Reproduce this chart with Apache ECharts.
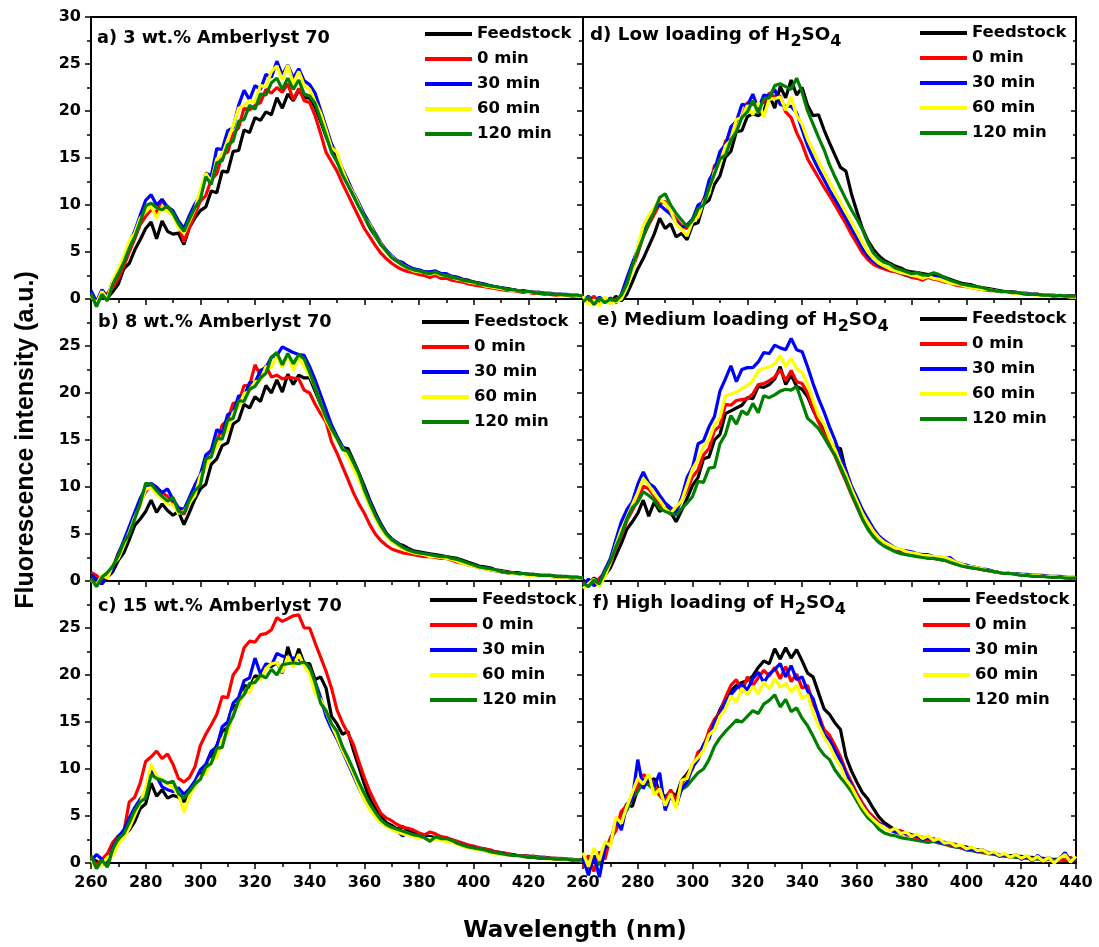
<!DOCTYPE html>
<html>
<head>
<meta charset="utf-8">
<script src="https://cdn.jsdelivr.net/npm/echarts/dist/echarts.min.js"></script>
<style>
html,body{margin:0;padding:0;background:#ffffff;}
#chart{width:1099px;height:947px;}
</style>
</head>
<body>
<div id="chart"></div>
<script>
// Emission wavelength grid (nm)
const wavelength = [
260,262,264,266,268,270,272,274,276,278,
280,282,284,286,288,290,292,294,296,298,
300,302,304,306,308,310,312,314,316,318,
320,322,324,326,328,330,332,334,336,338,
340,342,344,346,348,350,352,354,356,358,
360,362,364,366,368,370,372,374,376,378,
380,382,384,386,388,390,392,394,396,398,
400,402,404,406,408,410,412,414,416,418,
420,422,424,426,428,430,432,434,436,438,
440];

const seriesNames = ['Feedstock', '0 min', '30 min', '60 min', '120 min'];
const tickLabelsX = [260, 280, 300, 320, 340, 360, 380, 400, 420, 440];
const tickLabelsY = [0, 5, 10, 15, 20, 25, 30];

// ---- a) 3 wt.% Amberlyst 70 ----
const aFeed = [
0.2,-0.4,0.3,0.1,0.8,1.6,3.2,3.8,5.2,6.3,
7.5,8.2,6.4,8.3,7.2,6.9,7.0,5.8,7.6,8.6,
9.4,9.8,11.5,11.3,13.6,13.5,15.7,15.8,18.0,17.7,
19.3,19.0,19.9,19.6,21.4,20.3,21.8,21.1,22.2,21.4,
21.4,20.4,18.9,17.3,15.9,14.7,13.4,12.2,11.0,9.9,
8.7,7.6,6.7,5.8,5.1,4.5,4.0,3.9,3.4,3.2,
3.0,2.9,2.8,2.9,2.7,2.6,2.4,2.3,2.1,2.0,
1.8,1.7,1.6,1.4,1.3,1.2,1.1,1.0,0.9,0.9,
0.8,0.7,0.7,0.6,0.6,0.5,0.5,0.4,0.4,0.4,
0.3];
const a0 = [
0.4,-0.2,0.3,0.6,1.2,2.2,3.5,5.0,6.4,7.9,
8.8,9.5,9.2,10.6,9.5,9.0,7.9,6.1,7.6,9.0,
10.4,11.0,12.7,13.3,15.4,15.6,17.6,18.2,20.3,20.1,
20.6,20.9,22.3,21.9,22.5,22.0,22.9,21.2,22.4,21.1,
20.9,19.5,17.6,15.6,14.6,13.6,12.3,11.1,9.9,8.7,
7.5,6.6,5.7,4.9,4.3,3.8,3.4,3.1,2.9,2.8,
2.6,2.5,2.3,2.5,2.2,2.2,2.0,1.9,1.8,1.6,
1.5,1.4,1.3,1.2,1.1,1.0,0.9,0.9,0.8,0.7,
0.7,0.6,0.6,0.5,0.5,0.4,0.4,0.4,0.3,0.3,
0.3];
const a30 = [
0.9,-0.3,1.0,0.2,1.9,3.0,4.3,6.0,7.2,8.9,
10.5,11.1,10.0,10.6,9.8,9.4,8.3,7.5,8.9,10.1,
11.0,13.4,13.1,16.0,15.9,17.9,18.2,20.6,22.2,21.2,
22.7,22.3,23.9,23.6,25.3,23.8,24.9,23.5,24.5,23.2,
22.8,21.9,20.1,18.3,16.5,15.3,13.8,12.6,11.3,10.2,
9.0,8.0,7.0,6.0,5.2,4.6,4.1,3.8,3.5,3.2,
3.1,2.9,2.9,3.0,2.7,2.7,2.4,2.3,2.1,1.9,
1.8,1.7,1.5,1.4,1.3,1.2,1.1,1.0,0.9,0.8,
0.8,0.7,0.7,0.6,0.6,0.5,0.5,0.5,0.4,0.4,
0.3];
const a60 = [
0.3,-0.5,0.8,0.0,2.0,3.2,4.5,6.2,7.0,8.6,
9.3,9.9,8.6,9.8,9.3,8.9,7.6,7.0,8.3,9.6,
11.6,13.4,12.4,14.9,15.3,16.9,18.4,20.3,20.6,21.1,
21.0,22.7,22.6,24.2,24.8,23.3,24.9,22.9,24.2,22.7,
22.3,21.0,19.8,18.0,16.1,15.6,13.7,12.3,11.2,10.0,
8.7,7.9,6.8,5.9,5.0,4.5,4.0,3.6,3.3,3.0,
2.9,2.8,2.6,2.8,2.5,2.5,2.3,2.1,2.0,1.8,
1.7,1.6,1.4,1.3,1.2,1.1,1.0,0.9,0.9,0.8,
0.7,0.7,0.6,0.6,0.5,0.5,0.4,0.4,0.4,0.3,
0.3];
const a120 = [
0.6,-0.8,0.5,-0.2,1.6,2.7,3.9,5.4,6.6,8.2,
9.9,10.2,9.7,9.5,9.9,9.1,8.0,7.2,8.5,9.7,
10.6,13.0,12.2,14.5,14.7,16.4,16.8,18.9,19.1,20.6,
20.2,21.8,21.7,23.0,23.5,22.3,23.5,22.3,23.3,21.8,
21.6,20.8,19.1,17.4,15.6,14.6,13.2,12.1,11.0,9.8,
8.8,7.7,6.9,5.8,5.1,4.4,4.0,3.6,3.3,3.1,
3.0,2.8,2.7,2.9,2.6,2.5,2.3,2.2,2.0,1.9,
1.8,1.6,1.5,1.4,1.3,1.2,1.0,1.0,0.9,0.8,
0.8,0.7,0.6,0.6,0.5,0.5,0.5,0.4,0.4,0.4,
0.3];

// ---- b) 8 wt.% Amberlyst 70 ----
const bFeed = [
0.2,0.0,-0.3,0.4,1.0,2.2,3.0,4.4,5.9,6.6,
7.4,8.6,7.3,8.2,7.5,7.0,7.4,6.0,7.3,8.7,
9.8,10.3,12.4,13.0,14.4,14.7,16.7,17.1,18.8,18.4,
19.6,19.1,20.8,20.0,21.4,20.1,22.0,20.9,21.9,21.6,
21.6,20.2,18.8,17.4,16.0,15.1,14.2,14.1,12.8,11.5,
10.1,8.6,7.3,6.1,5.1,4.4,4.0,3.8,3.5,3.2,
3.1,3.0,2.9,2.8,2.7,2.6,2.5,2.4,2.2,2.0,
1.8,1.6,1.5,1.4,1.2,1.1,1.0,0.9,0.9,0.8,
0.7,0.7,0.6,0.6,0.6,0.5,0.5,0.4,0.4,0.4,
0.3];
const b0 = [
0.9,0.6,0.0,0.4,1.4,3.0,3.9,5.6,6.9,8.4,
9.5,10.3,9.8,9.4,9.0,8.4,7.5,7.1,8.4,9.2,
10.9,12.2,14.0,14.7,16.6,17.1,18.9,19.0,20.8,20.8,
23.0,21.9,22.9,21.7,21.9,21.5,21.7,21.6,21.5,20.3,
20.0,18.8,17.8,16.9,14.8,13.6,12.2,10.8,9.4,8.2,
7.2,6.0,5.0,4.3,3.8,3.4,3.2,3.0,2.9,2.8,
2.7,2.6,2.6,2.5,2.4,2.4,2.2,2.0,1.9,1.7,
1.6,1.4,1.3,1.2,1.1,1.0,0.9,0.8,0.8,0.7,
0.7,0.6,0.6,0.5,0.5,0.4,0.4,0.4,0.3,0.3,
0.3];
const b30 = [
0.7,0.2,-0.3,0.5,1.3,2.9,4.3,5.8,7.3,8.8,
9.9,10.4,10.0,9.4,9.8,8.7,7.8,7.6,8.9,10.2,
11.3,13.4,13.9,16.1,15.7,17.7,17.9,19.7,19.6,21.1,
21.1,22.4,22.7,23.8,24.0,24.9,24.6,24.3,24.1,24.0,
22.8,21.4,19.8,18.2,16.6,15.4,14.3,13.5,12.4,11.2,
9.9,8.5,7.1,6.0,5.1,4.5,4.1,3.6,3.3,3.1,
3.0,2.9,2.8,2.7,2.6,2.5,2.4,2.2,2.0,1.8,
1.7,1.5,1.4,1.2,1.1,1.0,0.9,0.9,0.8,0.7,
0.7,0.6,0.6,0.5,0.5,0.5,0.4,0.4,0.4,0.4,
0.3];
const b60 = [
0.1,-0.4,0.6,0.3,1.8,2.4,3.8,5.2,6.8,8.0,
9.8,9.9,9.2,8.8,8.2,8.1,7.2,7.4,8.3,9.1,
11.2,12.1,13.4,14.3,15.4,16.0,17.9,18.5,19.9,20.2,
21.2,21.3,22.8,22.7,23.9,22.7,24.1,22.4,23.8,22.8,
21.9,20.6,18.9,17.1,16.0,15.0,14.1,13.2,12.0,10.8,
9.3,7.9,6.7,5.6,4.8,4.2,3.8,3.4,3.2,3.0,
2.9,2.8,2.6,2.6,2.5,2.4,2.3,2.1,1.9,1.7,
1.6,1.4,1.3,1.2,1.1,1.0,0.9,0.8,0.8,0.7,
0.6,0.6,0.5,0.5,0.5,0.4,0.4,0.4,0.4,0.3,
0.3];
const b120 = [
0.3,-0.6,0.4,0.9,1.6,2.7,4.1,5.0,6.6,8.2,
10.4,10.3,9.6,9.0,8.5,8.9,7.4,7.2,8.6,9.6,
10.2,13.0,13.2,15.2,15.1,17.1,17.3,19.2,19.1,20.4,
20.7,21.6,22.1,23.8,24.3,23.0,24.2,23.1,24.1,23.6,
22.2,20.6,18.9,17.4,16.2,15.2,14.0,13.8,12.6,11.4,
9.7,8.3,7.0,5.9,5.0,4.4,4.0,3.6,3.3,3.1,
3.0,2.9,2.8,2.7,2.6,2.6,2.4,2.3,2.1,1.9,
1.7,1.5,1.4,1.3,1.2,1.0,0.9,0.9,0.8,0.8,
0.7,0.7,0.6,0.6,0.6,0.5,0.5,0.5,0.4,0.4,
0.3];

// ---- c) 15 wt.% Amberlyst 70 ----
const cFeed = [
0.5,0.2,-0.2,0.3,1.2,2.4,3.0,3.5,4.4,5.8,
6.3,8.5,7.1,7.8,6.9,7.2,7.0,6.5,7.4,8.3,
9.3,10.1,11.5,12.5,14.0,14.4,16.7,16.8,18.9,18.7,
19.9,19.8,21.1,20.9,21.3,20.2,23.0,21.0,22.8,21.2,
21.2,19.5,19.8,18.6,15.6,14.8,13.7,14.0,12.0,10.2,
8.4,6.8,5.8,5.0,4.3,4.0,3.6,3.9,3.4,3.2,
3.1,2.9,2.8,2.7,2.6,2.5,2.4,2.2,2.1,1.9,
1.7,1.6,1.5,1.3,1.2,1.1,1.0,0.9,0.8,0.8,
0.7,0.7,0.6,0.6,0.5,0.5,0.4,0.4,0.4,0.3,
0.3];
const c0 = [
0.6,-0.2,0.4,1.0,2.2,2.9,3.3,6.5,7.0,8.5,
10.8,11.3,11.9,11.1,11.6,10.5,9.0,8.6,9.1,10.2,
12.5,13.7,14.7,15.8,17.7,17.6,20.0,20.8,22.9,23.6,
23.5,24.3,24.4,24.8,26.1,25.7,26.0,26.3,26.4,25.0,
25.0,23.4,21.9,20.4,18.6,16.3,14.9,13.8,12.6,10.8,
9.1,7.6,6.4,5.3,4.8,4.5,4.1,3.8,3.7,3.5,
3.2,3.0,3.3,3.1,2.8,2.7,2.5,2.3,2.1,1.9,
1.8,1.6,1.5,1.4,1.2,1.1,1.0,0.9,0.8,0.8,
0.7,0.7,0.6,0.6,0.5,0.5,0.5,0.4,0.4,0.3,
0.3];
const c30 = [
0.2,0.9,0.4,-0.4,1.7,2.8,3.5,4.8,5.9,6.8,
7.5,9.9,9.2,8.1,7.8,7.6,8.0,7.3,7.9,8.7,
9.9,10.5,11.9,12.3,14.5,15.0,17.0,17.6,19.4,19.7,
21.8,20.1,21.2,21.0,22.3,22.0,21.9,21.8,21.7,21.2,
20.6,19.3,17.6,15.6,14.3,13.2,11.9,10.6,9.3,8.0,
6.8,5.8,5.0,4.4,4.0,3.7,3.4,2.9,3.2,3.0,
2.9,2.7,2.6,2.6,2.5,2.4,2.3,2.1,1.9,1.7,
1.6,1.5,1.3,1.2,1.1,1.0,0.9,0.9,0.8,0.7,
0.7,0.6,0.6,0.5,0.5,0.4,0.4,0.4,0.3,0.3,
0.3];
const c60 = [
0.3,-0.5,-0.2,0.6,0.8,2.0,2.7,3.7,5.1,6.4,
8.0,10.5,9.3,8.9,8.4,8.0,7.3,5.4,7.1,8.2,
9.2,9.5,11.0,11.2,13.2,13.7,16.0,16.8,18.2,18.1,
19.5,19.5,20.7,21.2,21.3,20.3,22.0,20.8,22.2,21.0,
20.1,18.0,17.4,16.1,14.7,13.4,12.0,10.8,9.5,8.1,
6.7,5.7,4.9,4.3,3.9,3.6,3.3,3.1,3.0,2.8,
2.7,2.6,2.6,2.5,2.4,2.3,2.2,2.0,1.8,1.6,
1.5,1.4,1.3,1.1,1.0,0.9,0.9,0.8,0.7,0.7,
0.6,0.6,0.5,0.5,0.4,0.4,0.4,0.3,0.3,0.3,
0.2];
const c120 = [
0.8,-0.6,0.3,-0.4,1.5,2.6,3.1,4.3,5.6,6.5,
6.9,9.4,9.0,8.8,8.5,8.7,7.4,6.9,7.6,8.4,
8.9,10.2,10.6,12.2,12.3,14.5,15.6,17.3,17.9,19.1,
19.2,20.0,19.7,20.6,20.0,21.1,21.2,21.3,21.2,21.4,
20.8,19.2,17.0,16.2,14.8,14.0,12.4,11.2,9.9,8.6,
7.4,6.3,5.4,4.6,4.1,3.8,3.6,3.4,3.2,3.0,
2.9,2.7,2.3,2.8,2.6,2.6,2.4,2.1,1.9,1.7,
1.6,1.5,1.4,1.2,1.1,1.0,0.9,0.8,0.8,0.7,
0.6,0.6,0.5,0.5,0.5,0.4,0.4,0.4,0.3,0.3,
0.3];

// ---- d) Low loading of H2SO4 ----
const dFeed = [
0.1,-0.3,0.2,-0.5,0.0,-0.4,0.3,-0.2,0.5,1.8,
3.2,4.3,5.6,6.9,8.6,7.5,8.0,6.6,7.0,6.3,
7.9,8.1,10.1,10.5,12.2,13.1,15.1,15.7,17.8,17.9,
19.4,19.7,19.5,20.0,21.7,20.3,22.6,21.4,23.3,21.7,
22.5,20.6,19.5,19.6,18.0,16.6,15.3,14.0,13.6,11.2,
9.3,7.5,6.2,5.3,4.6,4.1,3.8,3.5,3.3,3.0,
2.9,2.8,2.7,2.6,2.7,2.5,2.3,2.1,1.9,1.7,
1.6,1.5,1.3,1.2,1.1,1.0,0.9,0.8,0.8,0.7,
0.6,0.6,0.5,0.5,0.4,0.4,0.4,0.3,0.3,0.3,
0.3];
const d0 = [
0.2,-0.2,0.3,-0.4,0.1,-0.3,0.0,0.2,1.9,3.2,
4.8,6.7,7.9,9.0,10.1,10.4,9.2,8.5,7.8,7.5,
8.5,9.2,10.6,11.6,14.2,14.6,16.8,17.0,19.0,19.3,
20.9,20.7,20.7,20.9,21.9,21.5,21.6,19.9,19.3,17.7,
16.5,14.9,13.9,12.9,11.9,11.0,10.0,9.0,8.0,6.9,
5.9,4.9,4.2,3.7,3.4,3.2,3.0,2.9,2.7,2.5,
2.3,2.2,2.0,2.3,2.1,2.0,1.8,1.7,1.5,1.4,
1.3,1.2,1.1,1.0,0.9,0.9,0.8,0.7,0.7,0.6,
0.6,0.5,0.5,0.5,0.4,0.4,0.3,0.3,0.3,0.3,
0.3];
const d30 = [
-0.2,0.3,-0.5,0.2,-0.3,0.1,-0.4,0.5,2.2,3.8,
5.3,6.9,8.4,9.6,10.0,9.5,9.0,8.2,7.6,7.9,
8.5,10.0,10.3,12.6,13.7,15.7,16.4,18.3,18.9,20.7,
20.6,21.8,20.2,21.7,21.6,22.3,20.7,20.5,20.5,19.8,
18.0,16.3,15.0,13.8,12.7,11.6,10.6,9.6,8.6,7.5,
6.5,5.4,4.6,4.0,3.6,3.4,3.2,3.0,2.8,2.6,
2.5,2.4,2.3,2.5,2.4,2.2,2.0,1.8,1.6,1.5,
1.4,1.3,1.2,1.1,1.0,0.9,0.8,0.8,0.7,0.7,
0.6,0.6,0.5,0.5,0.4,0.4,0.4,0.3,0.3,0.3,
0.3];
const d60 = [
0.3,-0.6,-0.1,-0.7,0.2,-0.5,-0.3,0.0,1.2,3.0,
5.6,7.8,8.9,9.7,10.6,10.2,9.4,8.0,7.4,6.7,
8.3,8.7,10.3,11.2,13.6,14.4,16.3,16.9,19.1,19.3,
20.6,19.6,20.9,19.4,21.3,21.3,21.5,20.1,21.5,19.5,
18.6,17.0,15.8,14.6,13.5,12.4,11.3,10.3,9.2,8.2,
7.1,6.0,5.0,4.3,3.8,3.5,3.2,3.0,2.8,2.7,
2.5,2.4,2.2,2.4,2.2,2.1,1.9,1.7,1.6,1.5,
1.3,1.2,1.1,1.0,1.0,0.9,0.8,0.7,0.7,0.6,
0.6,0.5,0.5,0.4,0.4,0.4,0.3,0.3,0.3,0.2,
0.2];
const d120 = [
-0.3,0.2,-0.6,0.1,-0.4,0.0,-0.2,0.4,1.6,3.5,
5.1,6.6,8.1,9.3,10.8,11.2,10.0,9.1,8.4,7.7,
8.4,9.6,10.0,11.8,13.3,14.9,15.3,16.9,17.8,19.3,
19.9,21.1,19.8,21.3,21.4,22.7,22.9,22.6,22.3,23.5,
22.0,20.0,18.6,17.2,15.9,14.3,13.0,11.8,10.6,9.5,
8.5,7.4,6.0,4.9,4.3,3.9,3.7,3.3,3.1,2.9,
2.7,2.8,2.6,2.5,2.8,2.6,2.3,2.0,1.8,1.6,
1.5,1.4,1.3,1.2,1.0,0.9,0.8,0.8,0.7,0.7,
0.6,0.5,0.5,0.5,0.4,0.4,0.3,0.4,0.3,0.3,
0.3];

// ---- e) Medium loading of H2SO4 ----
const eFeed = [
0.1,-0.3,0.3,-0.1,0.6,1.4,2.7,4.0,5.5,6.3,
7.2,8.6,6.9,8.4,7.4,7.9,7.3,6.3,7.5,8.8,
10.2,11.0,13.0,13.2,15.0,15.6,17.8,18.1,18.4,18.7,
19.5,19.4,20.7,20.6,20.9,21.5,22.8,20.9,21.9,20.7,
20.4,19.6,18.2,17.0,16.1,14.8,14.2,14.1,11.6,9.7,
8.1,6.9,5.9,5.0,4.4,4.0,3.7,3.4,3.2,3.1,
3.0,2.8,2.7,2.6,2.5,2.5,2.3,2.2,2.0,1.8,
1.6,1.5,1.4,1.2,1.1,1.0,0.9,0.9,0.8,0.8,
0.7,0.6,0.6,0.6,0.5,0.5,0.4,0.4,0.4,0.3,
0.3];
const e0 = [
-0.3,0.1,-0.4,0.3,0.9,1.8,3.5,4.8,6.4,7.5,
8.6,10.1,9.8,9.0,8.1,7.6,7.1,7.5,8.6,9.7,
11.1,11.8,13.4,14.1,16.0,16.5,18.8,18.7,19.2,19.3,
19.4,19.9,20.9,21.0,21.3,21.7,22.5,21.3,22.4,21.2,
21.0,20.0,18.3,16.9,15.7,14.4,13.3,11.9,10.6,9.2,
7.9,6.6,5.6,4.8,4.2,3.8,3.5,3.3,3.1,3.0,
2.9,2.7,2.6,2.5,2.4,2.3,2.2,2.0,1.8,1.7,
1.5,1.4,1.3,1.2,1.1,1.0,0.9,0.8,0.8,0.7,
0.7,0.6,0.6,0.5,0.5,0.5,0.4,0.4,0.4,0.3,
0.3];
const e30 = [
-0.4,0.2,-0.5,-0.2,1.2,2.4,4.4,6.3,7.6,8.4,
10.3,11.6,10.4,10.0,9.1,8.3,7.8,7.3,8.9,11.0,
12.1,14.6,14.9,16.4,17.5,20.2,21.5,22.9,21.2,22.5,
22.7,22.7,23.3,24.3,24.2,25.1,24.8,24.6,25.8,24.6,
24.4,22.8,21.0,19.4,18.0,16.4,15.0,13.3,11.8,10.1,
8.9,7.6,6.6,5.6,4.8,4.3,3.9,3.5,3.3,3.2,
3.1,2.9,2.8,2.8,2.6,2.6,2.4,2.5,2.0,1.8,
1.7,1.5,1.4,1.3,1.2,1.0,0.9,0.9,0.8,0.8,
0.7,0.7,0.6,0.6,0.6,0.5,0.5,0.5,0.4,0.4,
0.4];
const e60 = [
-0.8,-0.3,0.2,-0.6,0.5,2.0,3.8,5.5,6.6,8.1,
9.4,10.9,10.2,9.3,8.6,7.7,7.2,7.9,8.5,10.2,
11.9,12.9,14.3,15.0,16.6,17.4,19.7,19.9,20.1,20.5,
20.8,21.3,22.4,22.6,22.8,23.1,24.0,22.8,23.7,22.6,
22.2,20.9,19.2,17.6,16.7,15.2,14.0,12.5,11.3,9.8,
8.5,7.2,6.2,5.3,4.6,4.1,3.8,3.5,3.4,3.1,
3.0,2.9,2.7,2.7,2.6,2.6,2.5,2.3,2.0,1.8,
1.6,1.5,1.4,1.3,1.1,1.0,0.9,0.9,0.8,0.7,
0.7,0.6,0.6,0.6,0.5,0.5,0.5,0.4,0.4,0.4,
0.3];
const e120 = [
-0.2,-0.6,0.1,-0.3,1.0,2.1,3.6,5.0,6.6,7.8,
8.4,9.5,9.1,8.6,7.7,7.4,7.2,7.0,7.7,8.3,
9.0,10.6,10.5,12.0,12.1,14.6,15.6,17.6,16.7,18.1,
17.7,18.9,17.9,19.7,19.5,19.8,20.2,20.4,20.3,20.7,
19.0,17.3,16.8,16.2,15.3,14.3,13.4,12.1,10.8,9.3,
8.0,6.6,5.5,4.7,4.1,3.7,3.4,3.1,2.9,2.8,
2.7,2.6,2.5,2.4,2.4,2.3,2.2,2.0,1.8,1.6,
1.5,1.4,1.3,1.2,1.1,1.0,0.9,0.8,0.8,0.7,
0.6,0.6,0.5,0.5,0.5,0.4,0.4,0.4,0.3,0.3,
0.3];

// ---- f) High loading of H2SO4 ----
const fFeed = [
0.2,-0.5,0.6,0.9,1.6,2.5,3.9,5.0,6.3,6.0,
7.9,8.9,8.5,9.0,7.6,7.0,7.6,7.1,8.8,9.5,
10.3,11.4,12.5,13.8,14.9,16.3,17.4,18.3,18.9,19.2,
19.4,19.9,20.8,21.5,21.2,22.8,21.7,22.9,21.8,22.7,
21.5,20.2,19.8,18.1,16.4,15.8,14.9,14.2,11.3,9.8,
8.6,7.5,6.8,5.8,4.9,4.3,3.9,3.5,3.4,3.2,
3.0,2.9,2.7,2.6,2.5,2.4,2.2,2.1,1.9,1.8,
1.7,1.5,1.4,1.3,1.1,1.0,0.9,0.8,0.8,0.7,
0.7,0.6,0.6,0.5,0.5,0.4,0.4,0.4,0.3,0.3,
0.3];
const f0 = [
-0.5,0.8,-0.9,1.2,0.4,2.7,3.4,5.5,6.1,7.2,
8.2,9.4,9.0,8.5,7.2,6.6,7.8,6.5,8.4,9.3,
10.0,11.8,12.2,14.1,15.3,16.0,17.6,18.9,19.5,18.2,
19.8,18.9,19.7,20.5,19.9,20.8,19.6,20.9,19.3,20.1,
18.6,18.9,17.0,15.8,14.2,13.6,12.5,11.3,9.8,8.6,
7.4,6.4,5.5,4.9,4.3,3.9,3.6,3.3,3.4,3.0,
2.9,2.6,2.7,2.4,2.6,2.2,2.1,1.9,2.0,1.6,
1.5,1.6,1.2,1.3,1.0,1.1,0.8,0.9,0.6,0.8,
0.5,0.7,0.3,0.6,0.2,0.5,0.1,0.4,0.3,0.6,
0.2];
const f30 = [
0.5,-1.3,0.8,-1.5,1.6,2.0,4.6,3.5,6.2,6.8,
11.0,7.9,9.2,8.1,9.6,5.6,7.3,6.0,7.9,8.6,
10.2,11.0,12.6,13.2,15.0,15.8,17.2,17.9,18.6,19.0,
18.4,19.6,20.3,19.2,20.1,20.6,21.2,19.8,21.0,19.5,
19.8,18.3,17.5,15.6,13.7,13.1,12.0,10.9,9.5,8.3,
7.1,6.1,5.3,4.7,4.2,4.0,3.5,3.3,3.1,3.2,
2.8,2.9,2.5,2.7,2.4,2.3,2.0,2.1,1.7,1.8,
1.4,1.5,1.2,1.4,1.0,1.1,0.7,0.9,0.6,0.9,
0.4,0.7,0.2,0.8,0.3,0.6,0.1,0.5,1.1,0.2,
0.4];
const f60 = [
1.1,-0.4,1.6,0.3,2.3,1.8,4.9,4.2,6.0,7.5,
9.0,8.4,9.5,7.2,7.9,6.1,7.4,5.8,8.8,9.0,
10.6,11.2,12.0,13.6,14.2,15.6,16.4,17.8,17.1,18.6,
17.9,18.8,18.0,19.3,18.5,19.6,18.7,19.1,18.2,18.9,
17.5,17.9,16.0,14.6,13.4,12.5,11.2,10.3,8.9,8.1,
7.0,6.0,5.2,4.6,4.1,3.8,3.4,3.7,3.1,3.3,
2.8,3.1,2.6,2.9,2.4,2.6,2.1,2.2,1.8,1.9,
1.5,1.7,1.3,1.4,1.0,1.2,0.8,1.0,0.6,0.9,
0.5,0.8,0.3,0.7,0.2,0.6,0.0,0.5,0.9,0.1,
0.7];
const f120 = [
0.3,-0.4,0.5,-0.2,1.3,2.4,3.6,4.8,5.6,6.9,
7.6,8.6,8.3,7.8,7.2,6.5,7.2,6.4,7.8,8.2,
8.9,9.6,10.0,11.0,12.4,13.3,14.0,14.6,15.2,15.0,
15.6,16.2,15.9,16.9,17.3,17.9,16.6,17.4,16.1,16.5,
15.4,14.6,13.5,12.3,11.5,11.0,9.9,9.1,8.4,7.6,
6.6,5.6,4.8,4.3,3.6,3.2,3.0,2.9,2.7,2.6,
2.5,2.4,2.3,2.2,2.3,2.1,2.0,1.8,1.7,1.6,
1.4,1.3,1.2,1.1,1.0,0.9,0.8,0.7,0.7,0.6,
0.6,0.5,0.5,0.4,0.4,0.4,0.3,0.3,0.3,0.3,
0.3];

const lineColors = {
  'Feedstock': '#000000',
  '0 min': '#ff0000',
  '30 min': '#0000ff',
  '60 min': '#ffff00',
  '120 min': '#008000'
};

// Panel layout: column 0 = Amberlyst 70, column 1 = H2SO4
const panels = [
  { col: 0, row: 0, title: '{n|a) 3 wt.% Amberlyst 70}', titleAt: [97, 23], legendAt: [425, 24],
    curves: { 'Feedstock': aFeed, '0 min': a0, '30 min': a30, '60 min': a60, '120 min': a120 },
    order: ['Feedstock', '0 min', '30 min', '60 min', '120 min'] },
  { col: 0, row: 1, title: '{n|b) 8 wt.% Amberlyst 70}', titleAt: [98, 307], legendAt: [422, 312],
    curves: { 'Feedstock': bFeed, '0 min': b0, '30 min': b30, '60 min': b60, '120 min': b120 },
    order: ['Feedstock', '0 min', '30 min', '60 min', '120 min'] },
  { col: 0, row: 2, title: '{n|c) 15 wt.% Amberlyst 70}', titleAt: [98, 591], legendAt: [430, 590],
    curves: { 'Feedstock': cFeed, '0 min': c0, '30 min': c30, '60 min': c60, '120 min': c120 },
    order: ['Feedstock', '0 min', '30 min', '60 min', '120 min'] },
  { col: 1, row: 0, title: '{n|d) Low loading of H}{s|2}{n|SO}{s|4}', titleAt: [590, 20], legendAt: [920, 23],
    curves: { 'Feedstock': dFeed, '0 min': d0, '30 min': d30, '60 min': d60, '120 min': d120 },
    order: ['Feedstock', '0 min', '30 min', '60 min', '120 min'] },
  { col: 1, row: 1, title: '{n|e) Medium loading of H}{s|2}{n|SO}{s|4}', titleAt: [597, 305], legendAt: [920, 309],
    curves: { 'Feedstock': eFeed, '0 min': e0, '30 min': e30, '60 min': e60, '120 min': e120 },
    order: ['Feedstock', '0 min', '30 min', '60 min', '120 min'] },
  { col: 1, row: 2, title: '{n|f) High loading of H}{s|2}{n|SO}{s|4}', titleAt: [593, 588], legendAt: [923, 590],
    curves: { 'Feedstock': fFeed, '0 min': f0, '30 min': f30, '60 min': f60, '120 min': f120 },
    order: ['Feedstock', '120 min', '0 min', '30 min', '60 min'] }
];

const plotLeft = [91, 583];
const plotWidth = [492, 493];
const plotTop = [17, 299, 581];
const plotHeight = 282;

const FONT = 'DejaVu Sans';
const axisColor = '#000000';

const grids = [], xAxes = [], yAxes = [], series = [], titles = [], legends = [];

panels.forEach((p, i) => {
  grids.push({
    left: plotLeft[p.col], top: plotTop[p.row], width: plotWidth[p.col], height: plotHeight,
    show: true, borderColor: axisColor, borderWidth: 2, backgroundColor: 'transparent'
  });
  const showX = p.row === 2;
  xAxes.push({
    gridIndex: i, type: 'value', min: tickLabelsX[0], max: tickLabelsX[tickLabelsX.length - 1], interval: 20,
    axisLine: { show: true, onZero: false, lineStyle: { color: axisColor, width: 2 } },
    axisTick: { show: true, length: 6, lineStyle: { color: axisColor, width: 1.5 } },
    minorTick: { show: true, splitNumber: 2, length: 4, lineStyle: { color: axisColor, width: 1.5 } },
    splitLine: { show: false },
    axisLabel: {
      show: showX, margin: 12, color: '#000', fontSize: 16, fontWeight: 'bold', fontFamily: FONT,
      showMinLabel: true, showMaxLabel: true,
      formatter: v => (p.col === 0 && v === 440) ? '' : String(v)
    }
  });
  yAxes.push({
    gridIndex: i, type: 'value', min: tickLabelsY[0], max: tickLabelsY[tickLabelsY.length - 1], interval: 5,
    position: 'left',
    axisLine: { show: true, onZero: false, lineStyle: { color: axisColor, width: 2 } },
    axisTick: { show: true, length: 6, lineStyle: { color: axisColor, width: 1.5 } },
    minorTick: { show: true, splitNumber: 2, length: 4, lineStyle: { color: axisColor, width: 1.5 } },
    splitLine: { show: false },
    axisLabel: {
      show: p.col === 0, margin: 10, color: '#000', fontSize: 16, fontWeight: 'bold', fontFamily: FONT,
      showMinLabel: true, showMaxLabel: true,
      formatter: v => (p.row > 0 && v === 30) ? '' : String(v)
    }
  });
  titles.push({
    text: p.title, left: p.titleAt[0], top: p.titleAt[1], padding: 0,
    textStyle: {
      rich: {
        n: { fontSize: p.col === 0 ? 17.7 : 18.3, fontWeight: 'bold', fontFamily: FONT, color: '#000', lineHeight: 30 },
        s: { fontSize: 16, fontWeight: 'bold', fontFamily: FONT, color: '#000', verticalAlign: 'bottom' }
      }
    }
  });
  legends.push({
    show: true, orient: 'vertical', left: p.legendAt[0], top: p.legendAt[1], padding: 0,
    data: seriesNames, selectedMode: false, icon: 'rect', itemWidth: 47, itemHeight: 4, itemGap: 5,
    textStyle: { fontSize: 16.5, fontWeight: 'bold', fontFamily: FONT, color: '#000', lineHeight: 20 }
  });
  p.order.forEach(name => {
    series.push({
      name: name, type: 'line', xAxisIndex: i, yAxisIndex: i,
      data: wavelength.map((w, k) => [w, p.curves[name][k]]),
      showSymbol: false, symbol: 'none', clip: false, smooth: false,
      lineStyle: { color: lineColors[name], width: 3.2 },
      itemStyle: { color: lineColors[name] },
      emphasis: { disabled: true }, silent: true
    });
  });
});

// Inward ticks on the right edge of the H2SO4 panels
panels.forEach((p, i) => {
  if (p.col !== 1) return;
  yAxes.push({
    gridIndex: i, type: 'value', min: 0, max: 30, interval: 5, position: 'right',
    axisLine: { show: false },
    axisTick: { show: true, inside: true, length: 5, lineStyle: { color: axisColor, width: 1.5 } },
    minorTick: { show: true, splitNumber: 2, length: 3, lineStyle: { color: axisColor, width: 1.5 } },
    splitLine: { show: false }, axisLabel: { show: false }
  });
});

const chart = echarts.init(document.getElementById('chart'), null, { renderer: 'canvas' });
chart.setOption({
  backgroundColor: '#ffffff',
  animation: false,
  grid: grids,
  xAxis: xAxes,
  yAxis: yAxes,
  title: titles,
  legend: legends,
  series: series,
  graphic: [
    { type: 'text', x: 575, y: 931, silent: true,
      style: { text: 'Wavelength (nm)', fontSize: 23, fontWeight: 'bold', fontFamily: FONT, fill: '#000',
               align: 'center', verticalAlign: 'middle', textAlign: 'center', textVerticalAlign: 'middle' } },
    { type: 'text', x: 26, y: 440, rotation: Math.PI / 2, silent: true,
      style: { text: 'Fluorescence intensity (a.u.)', fontSize: 25, fontWeight: 'bold', fontFamily: 'Liberation Sans', fill: '#000',
               align: 'center', verticalAlign: 'middle', textAlign: 'center', textVerticalAlign: 'middle' } }
  ]
});
</script>
</body>
</html>
